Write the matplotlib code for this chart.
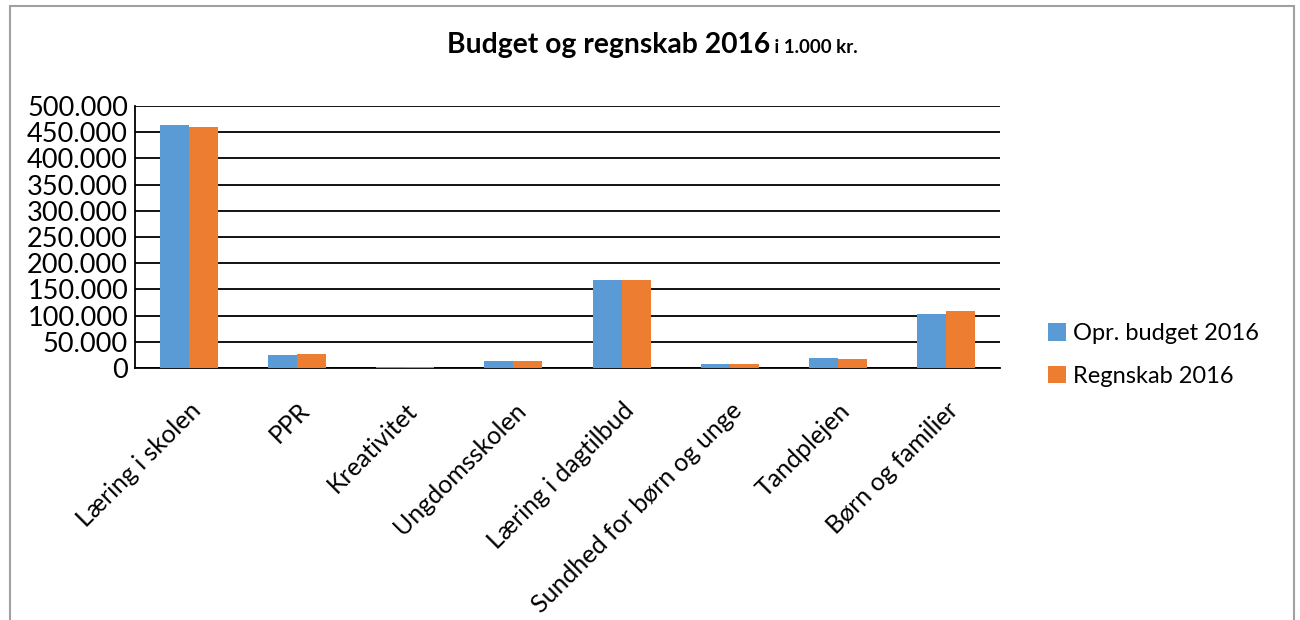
import matplotlib
matplotlib.use("Agg")
import matplotlib.pyplot as plt
import matplotlib.transforms as mtrans
import numpy as np
from matplotlib.patches import Rectangle
from matplotlib.ticker import FuncFormatter

categories = ["Læring i skolen", "PPR", "Kreativitet", "Ungdomsskolen",
              "Læring i dagtilbud", "Sundhed for børn og unge", "Tandplejen",
              "Børn og familier"]
budget = [464000, 24500, 1500, 12800, 167500, 7100, 18500, 102500]
regnskab = [460000, 26200, 1500, 12800, 167500, 7000, 16600, 108300]
series_names = ["Opr. budget 2016", "Regnskab 2016"]
title_main = "Budget og regnskab 2016"
title_sub = " i 1.000 kr."

plt.rcParams['font.family'] = ['Lato', 'DejaVu Sans']

fig = plt.figure(figsize=(13, 6.2), dpi=100)
fig.patch.set_facecolor('white')
fig.patches.append(Rectangle((10/1300, -0.1), 1284/1300, 1.1 - 6/620,
                             transform=fig.transFigure, fill=False,
                             edgecolor='#a0a0a0', lw=1.5))

ax = fig.add_axes([135/1300, 1 - 368/620, 865/1300, 262/620])
x = np.arange(len(categories))
w = 0.268
ax.bar(x - w/2, budget, w, color='#5B9BD5', label=series_names[0], zorder=3)
ax.bar(x + w/2, regnskab, w, color='#ED7D31', label=series_names[1], zorder=3)

ax.set_xlim(-0.5, len(categories) - 0.5)
ax.set_ylim(0, 500000)
ax.set_yticks(np.arange(0, 500001, 50000))
ax.yaxis.set_major_formatter(FuncFormatter(lambda v, p: f"{int(v):,}".replace(",", ".")))
ax.grid(axis='y', color='black', lw=1.3, zorder=0)
ax.set_axisbelow(True)
for s in ['top', 'right']:
    ax.spines[s].set_visible(False)
for s in ['left', 'bottom']:
    ax.spines[s].set_color('black')
    ax.spines[s].set_linewidth(1.3)
ax.tick_params(axis='y', length=0, labelsize=19.5, pad=5)
ax.tick_params(axis='x', length=0, labelsize=18, pad=22)
ax.set_xticks(x)
ax.set_xticklabels(categories, rotation=45, ha='right', va='top',
                   rotation_mode='anchor')
offset = mtrans.ScaledTranslation(0, 0, fig.dpi_scale_trans)
for lbl in ax.get_xticklabels():
    lbl.set_transform(lbl.get_transform() + offset)

leg = ax.legend(loc='center left', bbox_to_anchor=(1.045, 0.05), frameon=False,
                fontsize=17, handlelength=0.75, handleheight=0.75,
                handletextpad=0.3, labelspacing=0.9, borderaxespad=0)

t1 = fig.text(0.5, 0.5, title_main, fontsize=20.3, fontweight='bold')
t2 = fig.text(0, 0, title_sub, fontsize=13.5, fontweight='bold')
fig.canvas.draw()
r = fig.canvas.get_renderer()
bb = t1.get_window_extent(r)
bb2 = t2.get_window_extent(r)
total = bb.width + bb2.width
start = 652 - total/2
t1.set_ha('left'); t1.set_va('baseline')
t2.set_ha('left'); t2.set_va('baseline')
t1.set_position((start/1300, 1 - 53/620))
t2.set_position(((start + bb.width)/1300, 1 - 53/620))

fig.savefig("out.png", dpi=100, facecolor='white')
